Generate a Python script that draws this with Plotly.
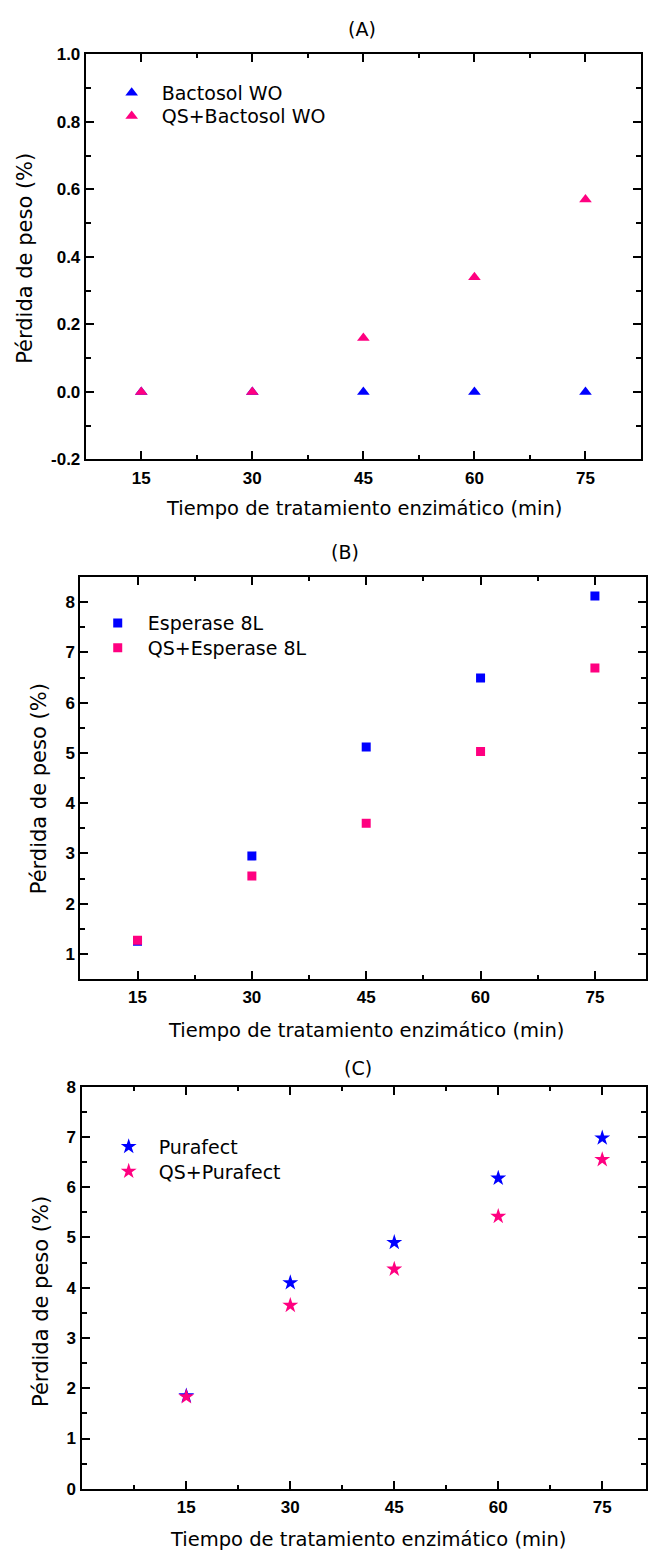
import plotly.graph_objects as go

# ---------------- data ----------------
times = [15, 30, 45, 60, 75]
bactosol = [0, 0, 0, 0, 0]
qs_bactosol = [0, 0, 0.16, 0.34, 0.57]
esperase = [1.25, 2.95, 5.12, 6.49, 8.12]
qs_esperase = [1.27, 2.55, 3.60, 5.03, 6.69]
purafect = [1.85, 4.10, 4.90, 6.18, 6.98]
qs_purafect = [1.83, 3.65, 4.37, 5.42, 6.55]

a_yticks = [-0.2, 0.0, 0.2, 0.4, 0.6, 0.8, 1.0]
b_yticks = [1, 2, 3, 4, 5, 6, 7, 8]
c_yticks = [0, 1, 2, 3, 4, 5, 6, 7, 8]

panel_titles = ["(A)", "(B)", "(C)"]
x_title = "Tiempo de tratamiento enzimático (min)"
y_title = "Pérdida de peso (%)"

BLUE = "#0000FF"
PINK = "#FF0080"
W, H = 648, 1562
TICKFONT = "Liberation Sans, Arial, sans-serif"
TEXTFONT = "DejaVu Sans, Verdana, sans-serif"


def py(px):
    return 1 - px / H


def pxx(px):
    return px / W


fig = go.Figure()

series = [
    (times, bactosol, "Bactosol WO", "triangle-up", 11, BLUE, "x", "y", "legend"),
    (times, qs_bactosol, "QS+Bactosol WO", "triangle-up", 11, PINK, "x", "y", "legend2"),
    (times, esperase, "Esperase 8L", "square", 9, BLUE, "x2", "y2", "legend3"),
    (times, qs_esperase, "QS+Esperase 8L", "square", 9, PINK, "x2", "y2", "legend4"),
    (times, purafect, "Purafect", "star", 12, BLUE, "x3", "y3", "legend5"),
    (times, qs_purafect, "QS+Purafect", "star", 12, PINK, "x3", "y3", "legend6"),
]
for xs, ys, name, sym, size, col, xa, ya, lg in series:
    fig.add_trace(go.Scatter(x=xs, y=ys, mode="markers", name=name,
                             marker=dict(symbol=sym, size=size, color=col),
                             xaxis=xa, yaxis=ya, legend=lg))

tickfont = dict(family=TICKFONT, size=17, color="black", weight="bold")


def xax(domain, rng, anchor):
    return dict(domain=domain, range=rng, anchor=anchor, tickmode="array",
                tickvals=times, ticktext=[str(t) for t in times],
                showline=True, linecolor="black", linewidth=2, mirror="ticks",
                ticks="inside", ticklen=8, tickwidth=2, tickcolor="black",
                minor=dict(ticks="inside", ticklen=4, tickwidth=1.5, tickcolor="black",
                           tickmode="linear", dtick=7.5, tick0=0),
                showgrid=False, zeroline=False, tickfont=tickfont,
                ticklabelstandoff=2, fixedrange=True)


def yax(domain, rng, anchor, ticks, fmt, minor_dtick, standoff):
    return dict(domain=domain, range=rng, anchor=anchor, tickmode="array",
                tickvals=ticks, ticktext=[fmt.format(v) for v in ticks],
                showline=True, linecolor="black", linewidth=2, mirror="ticks",
                ticks="inside", ticklen=8, tickwidth=2, tickcolor="black",
                minor=dict(ticks="inside", ticklen=5, tickwidth=1.5, tickcolor="black",
                           tickmode="linear", dtick=minor_dtick, tick0=0),
                showgrid=False, zeroline=False, tickfont=tickfont,
                ticklabelstandoff=standoff, fixedrange=True)


# frame pixel positions (plot area)
A = dict(l=86, r=643, t=46, b=456)
B = dict(l=80.6, r=648, t=575, b=982)
C = dict(l=82.6, r=648, t=1091, b=1498)

fig.update_layout(
    xaxis=xax([pxx(A["l"]), pxx(A["r"])], [7.5, 82.5], "y"),
    yaxis=yax([py(A["b"]), py(A["t"])], [-0.2, 1.0], "x", a_yticks, "{:.1f}", 0.1, 0),
    xaxis2=xax([pxx(B["l"]), 1], [7.5, 7.5 + (B["r"] - B["l"]) / 114.7 * 15], "y2"),
    yaxis2=yax([py(B["b"]), py(B["t"])], [0.5, 8.5], "x2", b_yticks, "{:d}", 0.5, 0),
    xaxis3=xax([pxx(C["l"]), 1], [0, (C["r"] - C["l"]) / 104.3 * 15], "y3"),
    yaxis3=yax([py(C["b"]), py(C["t"])], [0, 8], "x3", c_yticks, "{:d}", 0.5, 1),
)

legend_common = dict(font=dict(family=TEXTFONT, size=19, color="black"),
                     bgcolor="rgba(0,0,0,0)", borderwidth=0, xanchor="left",
                     yanchor="middle", itemclick=False, itemdoubleclick=False,
                     itemwidth=50, tracegroupgap=0)
# (legend left px, row centre px)
legend_pos = [(102, 85), (102, 108.5), (88, 621.7), (88, 646.7), (99, 1151.7), (99, 1176.7)]
legend_names = ["legend", "legend2", "legend3", "legend4", "legend5", "legend6"]
fig.update_layout(**{
    nm: dict(x=pxx(lx), y=py(ly), **legend_common)
    for nm, (lx, ly) in zip(legend_names, legend_pos)
})

annotations = []
for txt, xc, yc in zip(panel_titles, [363, 346, 359], [20, 550, 1072]):
    annotations.append(dict(text=txt, x=pxx(xc), y=py(yc), xref="paper", yref="paper",
                            showarrow=False, xanchor="center", yanchor="middle",
                            font=dict(family=TEXTFONT, size=19, color="black")))
for xc, yc in zip([365, 367, 369], [506, 1034, 1549]):
    annotations.append(dict(text=x_title, x=pxx(xc), y=py(yc), xref="paper", yref="paper",
                            showarrow=False, xanchor="center", yanchor="middle",
                            font=dict(family=TEXTFONT, size=19.5, color="black")))
for xc, yc in zip([25, 40, 41], [252, 789, 1308]):
    annotations.append(dict(text=y_title, x=pxx(xc), y=py(yc), xref="paper", yref="paper",
                            showarrow=False, xanchor="center", yanchor="middle",
                            textangle=-90,
                            font=dict(family=TEXTFONT, size=21, color="black")))

fig.update_layout(
    width=W, height=H,
    margin=dict(l=0, r=0, t=0, b=0, pad=0),
    paper_bgcolor="white", plot_bgcolor="white",
    showlegend=True,
    annotations=annotations,
    font=dict(family=TEXTFONT, color="black"),
)

fig.write_html("out.html", config={"displayModeBar": False})
